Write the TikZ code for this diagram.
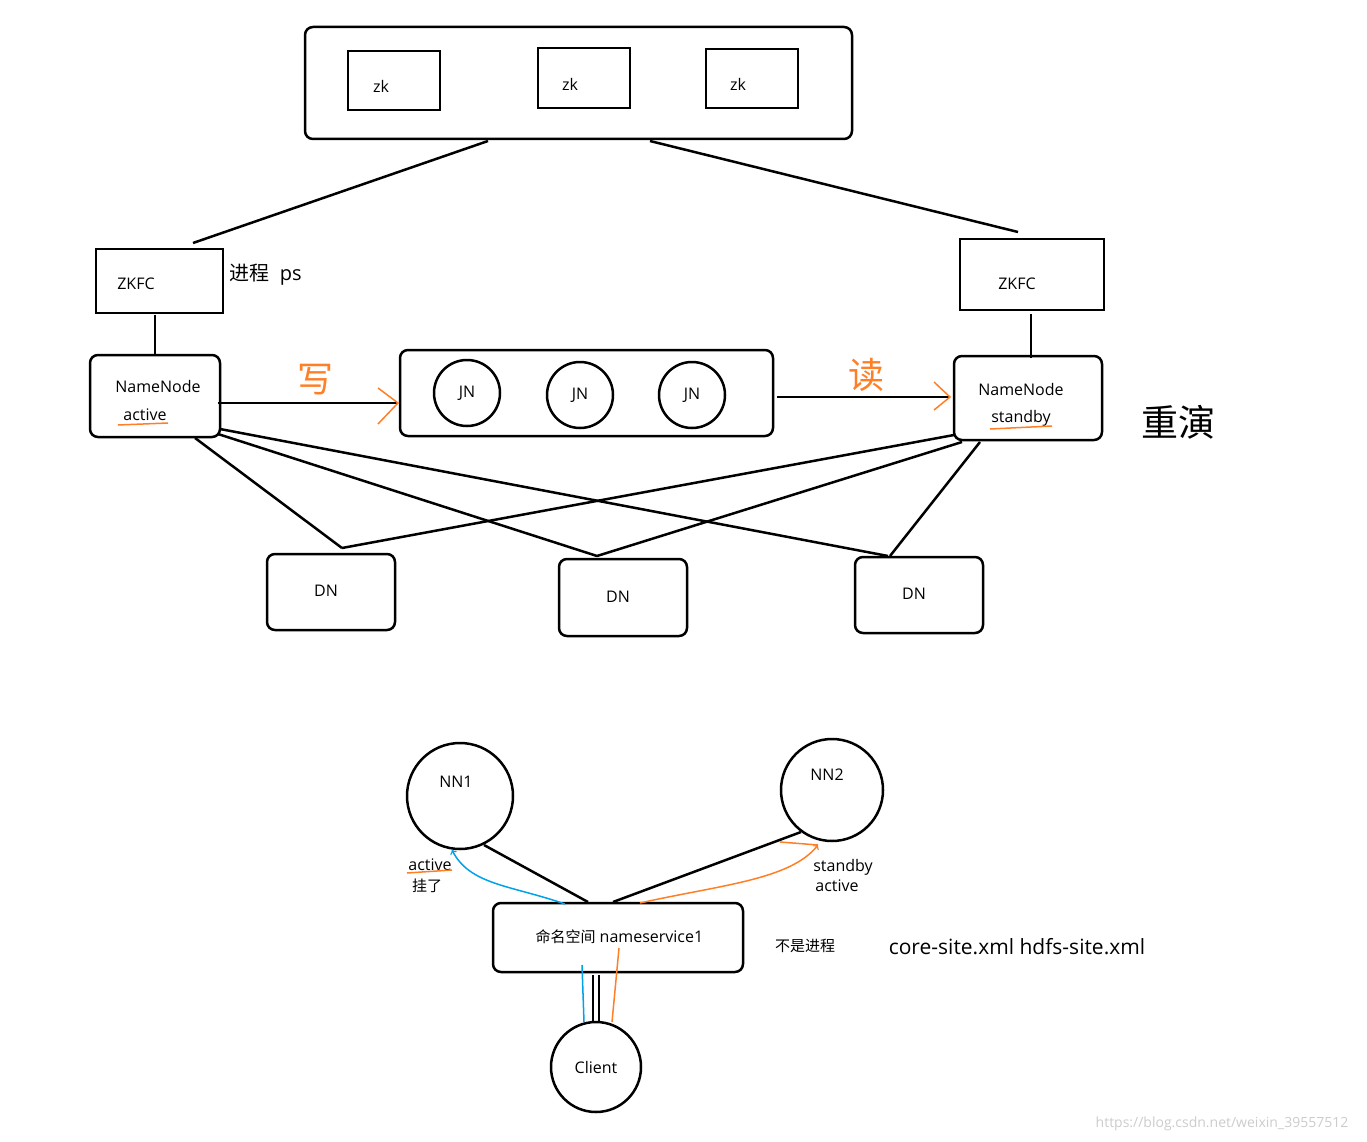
\documentclass[tikz,border=0pt]{standalone}
\usepackage{fontspec}
\setmainfont{Open Sans}
\newfontfamily\cjk{Noto Sans CJK SC}
\definecolor{org}{RGB}{255,127,39}
\definecolor{blu}{RGB}{0,162,232}
\begin{document}
\begin{tikzpicture}[x=1pt,y=-1pt,
 bx/.style={draw,line width=2.5pt,rounded corners=8pt},
 sq/.style={draw,line width=2.5pt},
 ln/.style={line width=2.5pt},
 cir/.style={draw,circle,line width=2.5pt},
 t/.style={font=\fontsize{16}{18}\selectfont},
 oa/.style={org,line width=1.5pt},
 ba/.style={blu,line width=1.5pt}]
\useasboundingbox (0,0) rectangle (1367,1142);
% top
\draw[bx] (305,27) rectangle (852,139);
\draw[sq] (348,51) rectangle (440,110);
\draw[sq] (538,48) rectangle (630,108);
\draw[sq] (706,49) rectangle (798,108);
\node[t] (zk1) at (381,86) {zk};
\node[t] (zk2) at (570,84) {zk};
\node[t] (zk3) at (738,84) {zk};
\draw[ln] (488,141) -- (193,243);
\draw[ln] (650,141) -- (1018,232);
% ZKFC
\draw[sq] (96,249) rectangle (223,313);
\node[t] (zkl) at (136,284) {ZKFC};
\node[t,anchor=west,font=\fontsize{20}{22}\selectfont] (proc) at (226,275) {{\cjk 进程}\ \ ps};
\draw[sq] (960,239) rectangle (1104,310);
\node[t] (zkr) at (1017,284) {ZKFC};
\draw[ln] (155,315) -- (155,356);
\draw[ln] (1031,314) -- (1031,358);
% namenodes
\draw[bx] (90,355) rectangle (220,437);
\node[t] (nnl) at (158,386) {NameNode};
\node[t] (act) at (145,415) {active};
\draw[oa] (118,425) -- (168,423);
\draw[bx] (954,356) rectangle (1102,440);
\node[t] (nnr) at (1021,389) {NameNode};
\node[t] (stb) at (1021,418) {standby};
\draw[oa] (990,429) -- (1052,426);
\node[font=\cjk\fontsize{37}{40}\selectfont] (cy) at (1178,422) {重演};
% JN
\draw[bx] (400,350) rectangle (773,436);
\node[cir,minimum size=66pt,t] (j1) at (467,393) {JN};
\node[cir,minimum size=66pt,t] (j2) at (580,395) {JN};
\node[cir,minimum size=66pt,t] (j3) at (692,395) {JN};
\draw[ln] (218,403) -- (398,403);
\draw[oa] (378,388) -- (398,403) -- (378,424);
\node[org,font=\cjk\fontsize{36}{38}\selectfont] (w) at (315,380) {写};
\draw[ln] (777,397) -- (950,397);
\draw[oa] (934,382) -- (950,397) -- (934,410);
\node[org,font=\cjk\fontsize{36}{38}\selectfont] (r) at (866,375) {读};
% DN
\draw[bx] (267,554) rectangle (395,630); \node[t] (d1) at (326,591) {DN};
\draw[bx] (559,559) rectangle (687,636); \node[t] (d2) at (618,597) {DN};
\draw[bx] (855,557) rectangle (983,633); \node[t] (d3) at (914,594) {DN};
\draw[ln] (195,438) -- (342,548);
\draw[ln] (218,434) -- (597,556);
\draw[ln] (220,429) -- (888,556);
\draw[ln] (954,435) -- (342,548);
\draw[ln] (962,442) -- (597,556);
\draw[ln] (980,442) -- (890,556);
% bottom
\node[cir,minimum size=106pt] (n1) at (460,796) {};
\node[t] at (456,782) {NN1};
\node[cir,minimum size=102pt] (n2) at (832,790) {};
\node[t] at (827,775) {NN2};
\draw[bx] (493,903) rectangle (743,972);
\node[t,anchor=west] (ns) at (532,937) {{\cjk\fontsize{15}{17}\selectfont 命名空间} nameservice1};
\node[cir,minimum size=90pt,t] (cl) at (596,1067) {Client};
\draw[ln] (484,845) -- (588,902);
\draw[ln] (801,832) -- (613,902);
\draw[ln] (593,975) -- (593,1022);
\draw[ln] (599,975) -- (599,1022);
\draw[ba,->] (565,904) .. controls (510,885) and (470,885) .. (452,850);
\draw[ba] (582,965) -- (584,1022);
\draw[oa,->] (640,903) .. controls (720,885) and (790,880) .. (818,845);
\draw[oa] (780,842) -- (818,845);
\draw[oa] (619,948) -- (612,1022);
\node[t] (a1) at (430,865) {active};
\draw[oa] (407,873) -- (452,870);
\node[font=\cjk\fontsize{15}{17}\selectfont] (g) at (427,886) {挂了};
\node[t] (s2) at (843,867) {standby};
\node[t] (a2) at (837,886) {active};
\node[font=\cjk\fontsize{15}{17}\selectfont] (bs) at (805,946) {不是进程};
\node[font=\fontsize{21}{24}\selectfont] (cf) at (1017,947) {core-site.xml hdfs-site.xml};
\node[gray!40,font=\fontsize{14}{16}\selectfont] (wm) at (1222,1124) {https://blog.csdn.net/weixin\_39557512};
\end{tikzpicture}
\end{document}
